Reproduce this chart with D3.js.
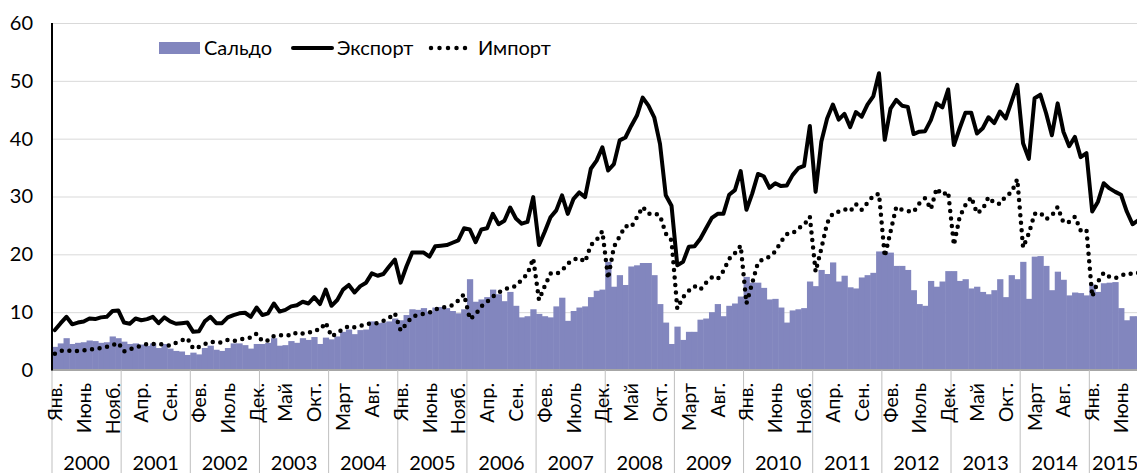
<!DOCTYPE html>
<html>
<head>
<meta charset="utf-8">
<script src="https://cdn.jsdelivr.net/npm/d3@7"></script>
<style>
  body { margin: 0; background: #fff; }
  svg { display: block; font-family: Lato, "Open Sans", sans-serif; }
</style>
</head>
<body>
<svg width="1137" height="473"></svg>
<script>
var years = [2000, 2001, 2002, 2003, 2004, 2005, 2006, 2007, 2008, 2009, 2010, 2011, 2012, 2013, 2014, 2015];
var monthNames = ["Янв.", "Фев.", "Март", "Апр.", "Май", "Июнь", "Июль", "Авг.", "Сен.", "Окт.", "Нояб.", "Дек."];
var yTicks = [0, 10, 20, 30, 40, 50, 60];
var seriesNames = ["Сальдо", "Экспорт", "Импорт"];

// monthly values, Jan 2000 .. Sep 2015
var saldo = [
  4.0, 4.6, 5.5, 4.5, 4.7, 4.8, 5.1, 5.0, 4.7, 4.8, 5.8, 5.5,
  4.9, 4.5, 4.6, 4.4, 4.2, 4.6, 3.8, 4.5, 3.7, 3.3, 3.2, 2.6,
  3.0, 2.7, 3.8, 4.2, 3.5, 3.3, 3.8, 4.6, 4.6, 4.3, 3.7, 4.5,
  4.5, 4.7, 5.5, 4.2, 4.3, 5.0, 4.7, 5.5, 5.2, 5.7, 4.5, 5.6,
  5.3, 5.8, 6.6, 7.0, 6.2, 6.9, 7.0, 8.4, 8.1, 8.2, 8.4, 8.9,
  8.6, 9.5, 10.5, 10.4, 10.7, 10.1, 10.8, 10.9, 10.7, 10.2, 9.8, 10.5,
  15.7, 11.8, 12.2, 12.6, 13.9, 13.1, 11.9, 13.5, 11.1, 9.1, 9.3, 10.5,
  9.7, 9.3, 9.1, 11.0, 12.5, 8.5, 10.2, 10.8, 11.0, 12.6, 13.7, 13.9,
  18.7, 14.4, 16.4, 14.7, 17.9, 18.1, 18.5, 18.5, 16.4, 11.4, 8.2, 4.5,
  7.5, 5.2, 6.6, 6.6, 8.7, 8.9, 10.0, 11.4, 9.3, 11.1, 11.5, 12.7,
  16.1, 15.1, 15.1, 14.2, 12.2, 12.3, 10.8, 8.2, 10.3, 10.5, 10.7, 15.3,
  14.5, 17.3, 16.6, 18.6, 15.3, 16.3, 14.3, 14.1, 16.0, 16.4, 16.8, 20.5,
  20.5, 20.3, 18.0, 18.0, 17.3, 13.8, 11.4, 11.1, 15.4, 14.4, 15.3, 17.1,
  17.1, 15.4, 15.7, 14.1, 14.4, 13.5, 13.1, 13.8, 15.7, 12.6, 16.4, 15.7,
  18.7, 12.3, 19.6, 19.7, 18.0, 13.8, 17.0, 15.6, 12.9, 13.4, 13.3, 12.9,
  14.8, 13.5, 15.0, 15.1, 15.2, 10.7, 8.6, 9.3, 9.3
];
var eksport = [
  6.9, 8.1, 9.2, 7.9, 8.2, 8.4, 8.9, 8.8, 9.1, 9.2, 10.2, 10.3,
  8.2, 8.0, 8.9, 8.6, 8.8, 9.2, 8.1, 9.1, 8.4, 8.0, 8.1, 8.2,
  6.6, 6.7, 8.4, 9.2, 8.1, 8.1, 9.1, 9.5, 9.8, 9.9, 9.2, 10.8,
  9.5, 9.8, 11.5, 10.1, 10.4, 11.0, 11.2, 11.8, 11.5, 12.6, 11.4, 13.9,
  11.1, 12.1, 13.9, 14.7, 13.4, 14.5, 15.1, 16.7, 16.3, 16.6, 17.9, 19.1,
  15.1, 17.9, 20.3, 20.3, 20.3, 19.6, 21.4, 21.5, 21.6, 22.0, 22.4, 24.5,
  24.3, 22.1, 24.3, 24.5, 27.0, 25.2, 25.8, 28.1, 26.2, 25.3, 25.6, 29.9,
  21.6, 23.9, 26.4, 27.6, 30.2, 27.0, 29.6, 30.7, 29.9, 34.8, 36.2, 38.5,
  34.5, 35.6, 39.7, 40.2, 42.2, 44.0, 47.1, 45.7, 43.7, 39.1, 30.2, 28.4,
  18.1, 18.7, 21.3, 21.4, 22.7, 24.5, 26.3, 27.0, 27.0, 30.3, 31.1, 34.4,
  27.7, 30.5, 33.9, 33.5, 31.5, 32.3, 31.8, 31.9, 33.7, 34.9, 35.3, 42.2,
  30.8, 39.5, 43.5, 45.9, 43.3, 44.3, 42.0, 44.6, 43.8, 45.9, 47.3, 51.3,
  39.8, 45.2, 46.7, 45.7, 45.5, 40.8, 41.2, 41.3, 43.2, 46.1, 45.4, 48.5,
  38.9, 41.8, 44.5, 44.5, 40.9, 41.8, 43.7, 42.7, 44.7, 43.5, 46.4, 49.3,
  39.2, 36.5, 47.0, 47.6, 44.4, 40.6, 46.1, 41.2, 38.7, 40.3, 36.8, 37.5,
  27.4, 29.1, 32.3, 31.4, 30.8, 30.3, 27.4, 25.2, 25.9
];
var importVals = [
  2.8, 3.3, 3.4, 3.3, 3.3, 3.4, 3.5, 3.7, 3.8, 4.0, 4.3, 4.7,
  3.2, 3.6, 3.9, 4.2, 4.5, 4.5, 4.5, 4.4, 4.2, 4.7, 5.1, 5.5,
  3.7, 4.0, 4.5, 4.9, 4.7, 4.8, 5.2, 5.0, 5.2, 5.5, 5.6, 6.3,
  5.0, 5.1, 5.9, 6.0, 6.1, 5.9, 6.5, 6.3, 6.4, 6.9, 6.9, 8.2,
  5.8, 6.4, 7.1, 7.6, 7.4, 7.6, 8.0, 8.0, 8.1, 8.5, 9.0, 9.8,
  6.8, 8.0, 9.2, 9.5, 9.7, 9.9, 10.5, 10.7, 11.0, 11.2, 12.0, 13.1,
  8.8, 9.6, 11.0, 11.8, 12.7, 13.4, 13.9, 14.3, 14.5, 15.6, 16.6, 19.3,
  12.1, 14.5, 16.7, 16.6, 17.2, 18.4, 19.1, 19.4, 18.7, 21.6, 22.5, 24.0,
  15.8, 21.3, 23.1, 24.9, 24.7, 26.4, 28.2, 27.0, 27.1, 26.7, 23.6, 22.4,
  10.6, 12.6, 13.7, 14.5, 13.9, 15.1, 16.0, 15.7, 17.1, 19.2, 20.2, 21.5,
  11.5, 15.0, 18.6, 19.2, 19.6, 20.5, 22.2, 23.5, 23.6, 24.5, 25.1, 26.5,
  17.0, 21.0, 25.4, 27.1, 27.4, 27.8, 27.4, 28.7, 27.7, 28.9, 30.1, 30.5,
  19.6, 23.9, 28.2, 27.7, 27.5, 27.3, 28.8, 29.7, 27.8, 31.4, 30.3, 30.8,
  21.6, 26.5, 28.5, 29.9, 27.1, 27.8, 29.9, 28.9, 28.7, 30.1, 30.7, 33.0,
  21.2, 23.6, 27.0, 27.2, 26.1, 26.7, 28.2, 25.5, 25.6, 26.5, 24.1, 24.3,
  12.7, 15.3, 16.8, 16.1, 15.9, 16.3, 16.7, 16.6, 16.8
];

var svg = d3.select("svg");
var W = 1137, H = 473;
var n = saldo.length;
var plotLeft = 52, monthW = 5.763, plotTop = 23, plotBottom = 370;
var barColor = "#8286be";
var FONT = 20;

var x = d3.scaleBand().domain(d3.range(n)).range([plotLeft, plotLeft + n * monthW]).padding(0);
var y = d3.scaleLinear().domain([0, 60]).range([plotBottom, plotTop]);
var bw = x.bandwidth();
var cx = function(i) { return x(i) + bw / 2; };

// gridlines
svg.append("g")
  .attr("transform", "translate(" + plotLeft + ",0)")
  .call(d3.axisLeft(y).tickValues(yTicks.slice(1)).tickSize(-(W - plotLeft)).tickFormat(""))
  .call(function(g) { g.select(".domain").remove(); })
  .selectAll("line").attr("stroke", "#d9d9d9").attr("stroke-width", 1);

// bars
svg.append("g").selectAll("rect").data(saldo).join("rect")
  .attr("x", function(d, i) { return x(i); })
  .attr("width", bw + 0.5)
  .attr("y", function(d) { return y(d); })
  .attr("height", function(d) { return plotBottom - y(d); })
  .attr("fill", barColor);

// lines
var line = d3.line().x(function(d, i) { return cx(i); }).y(function(d) { return y(d); });

svg.append("path").datum(importVals)
  .attr("d", line)
  .attr("fill", "none").attr("stroke", "#000")
  .attr("stroke-width", 4.5).attr("stroke-linecap", "round")
  .attr("stroke-dasharray", "0 7.6");

svg.append("path").datum(eksport)
  .attr("d", line)
  .attr("fill", "none").attr("stroke", "#000")
  .attr("stroke-width", 4).attr("stroke-linejoin", "round").attr("stroke-linecap", "round");

// axes lines
svg.append("line").attr("x1", plotLeft).attr("x2", W).attr("y1", plotBottom).attr("y2", plotBottom)
  .attr("stroke", "#a6a6a6").attr("stroke-width", 2);
svg.append("line").attr("x1", plotLeft).attr("x2", plotLeft).attr("y1", plotTop).attr("y2", plotBottom + 1)
  .attr("stroke", "#000").attr("stroke-width", 2);

// y tick labels
svg.append("g")
  .attr("transform", "translate(33,0)")
  .call(d3.axisLeft(y).tickValues(yTicks).tickSize(0).tickPadding(0))
  .call(function(g) { g.select(".domain").remove(); })
  .selectAll("text")
  .attr("font-family", "Lato, sans-serif").attr("font-size", FONT).attr("fill", "#000");

// year separators and labels
years.forEach(function(yr, k) {
  var x0 = x(k * 12);
  var last = Math.min(k * 12 + 11, n - 1);
  var x1 = x(last) + bw;
  svg.append("line").attr("x1", x0).attr("x2", x0).attr("y1", plotBottom).attr("y2", H)
    .attr("stroke", "#bfbfbf").attr("stroke-width", 1);
  svg.append("text").attr("x", (x0 + x1) / 2).attr("y", 470)
    .attr("text-anchor", "middle").attr("font-size", FONT).attr("fill", "#000")
    .text(yr);
});

// month labels every 5 months
d3.range(0, n, 5).forEach(function(i) {
  svg.append("text")
    .attr("transform", "translate(" + cx(i) + ",383) rotate(-90)")
    .attr("text-anchor", "end").attr("dy", "0.36em")
    .attr("font-size", 19.5).attr("fill", "#000")
    .text(monthNames[i % 12]);
});

// legend
var lg = svg.append("g").attr("font-size", FONT).attr("fill", "#000");
lg.append("rect").attr("x", 159).attr("y", 42).attr("width", 41).attr("height", 12).attr("fill", barColor);
lg.append("text").attr("x", 204).attr("y", 55).text(seriesNames[0]);
lg.append("line").attr("x1", 293).attr("x2", 332).attr("y1", 48).attr("y2", 48)
  .attr("stroke", "#000").attr("stroke-width", 4).attr("stroke-linecap", "round");
lg.append("text").attr("x", 337).attr("y", 55).text(seriesNames[1]);
lg.append("line").attr("x1", 431).attr("x2", 467).attr("y1", 48).attr("y2", 48)
  .attr("stroke", "#000").attr("stroke-width", 4.5).attr("stroke-linecap", "round")
  .attr("stroke-dasharray", "0 8.5");
lg.append("text").attr("x", 478).attr("y", 55).text(seriesNames[2]);
</script>
</body>
</html>
